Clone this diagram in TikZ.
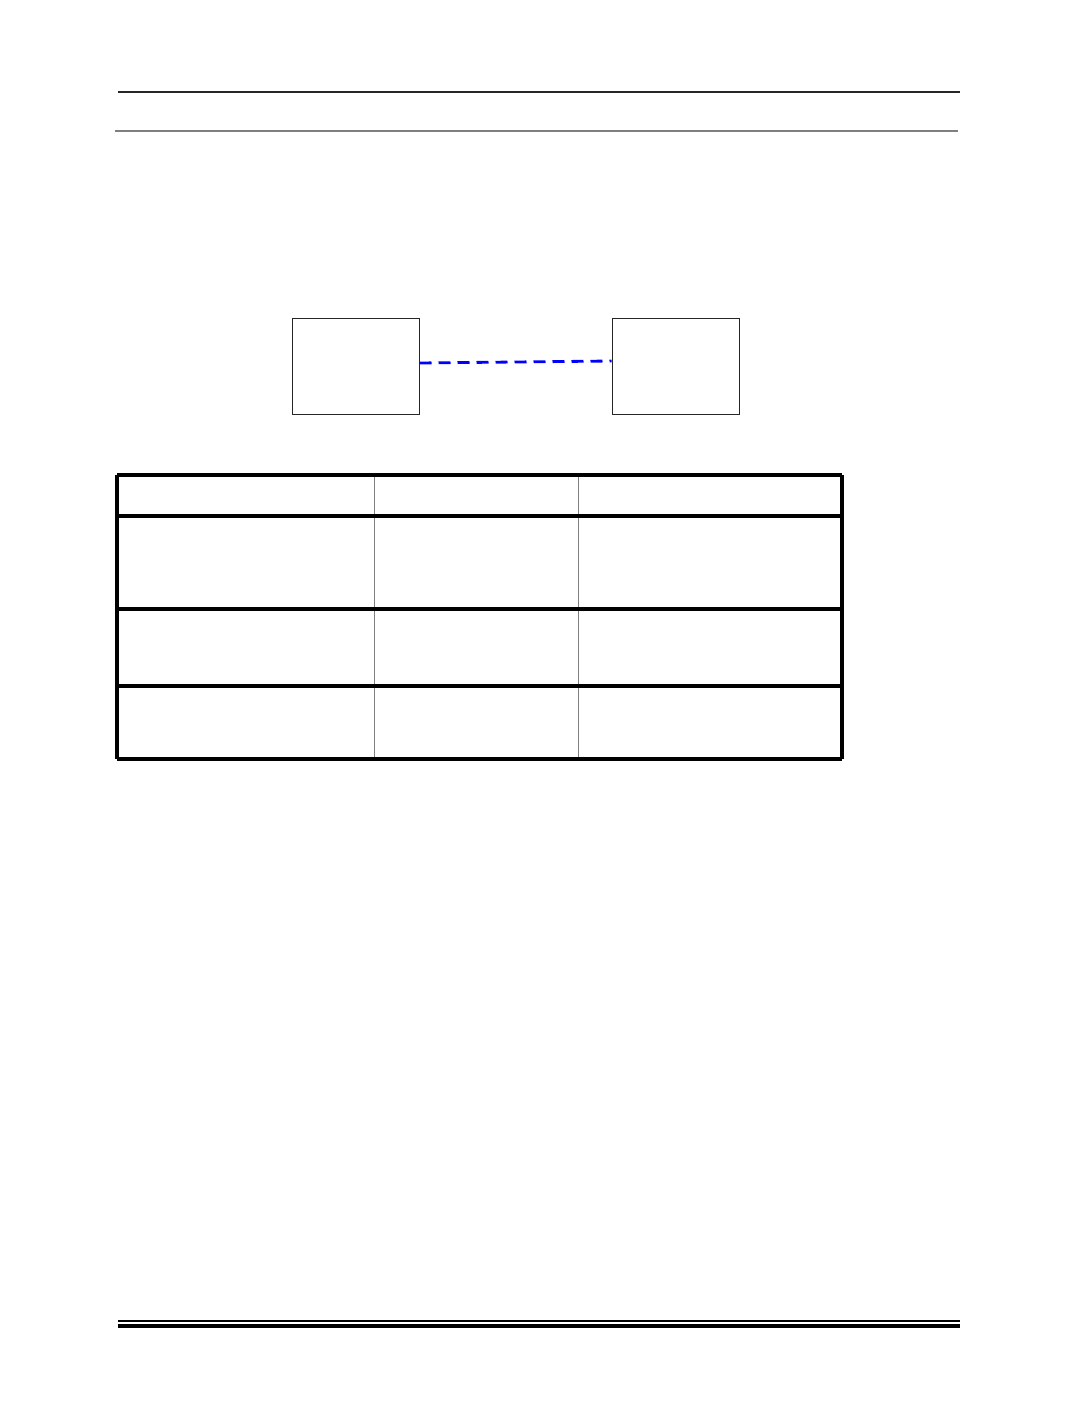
\documentclass[tikz,border=0pt]{standalone}
\usepackage{xcolor}
\usepackage{tikz}
\usetikzlibrary{calc}
\definecolor{ink}{HTML}{000000}
\definecolor{rulegray}{HTML}{7F7F7F}
\definecolor{linkblue}{HTML}{0000FF}
\tikzset{
  toprule/.style={draw=ink!85, line width=0.6pt},
  subrule/.style={draw=rulegray, line width=1pt},
  box/.style={draw=ink!85, line width=0.5pt, minimum width=63.5pt, minimum height=48pt, inner sep=0pt},
  wire/.style={draw=linkblue, line width=1.4pt, dash pattern=on 6pt off 3.5pt},
  frame/.style={draw=ink, line width=2pt},
  cellline/.style={draw=rulegray, line width=0.5pt},
  footthin/.style={draw=ink, line width=0.9pt},
  footthick/.style={draw=ink, line width=2.2pt},
}
\begin{document}
\begin{tikzpicture}[x=0.5pt,y=-0.5pt]
  \useasboundingbox (0,0) rectangle (1075,1422);
  % header rules
  \draw[toprule] (118,92) -- (960,92);
  \draw[subrule] (115,131) -- (958,131);
  % the two boxes and their link
  \node[box] (left) at (355.5,367) {};
  \node[box] (right) at (675.5,367) {};
  \draw[wire] ([yshift=2pt]left.east) -- ([yshift=3pt]right.west);
  % table
  \coordinate (TL) at (117,475);
  \coordinate (BR) at (842,759);
  \foreach \x in {374,578}
    \draw[cellline] (\x,475) -- (\x,759);
  \foreach \y in {475,516,609,686,759}
    \draw[frame] (117,\y) -- (842,\y);
  \draw[frame] (TL) -- (TL |- BR);
  \draw[frame] (BR |- TL) -- (BR);
  % footer rules
  \draw[footthin] (118,1321) -- (960,1321);
  \draw[footthick] (118,1326) -- (960,1326);
\end{tikzpicture}
\end{document}
